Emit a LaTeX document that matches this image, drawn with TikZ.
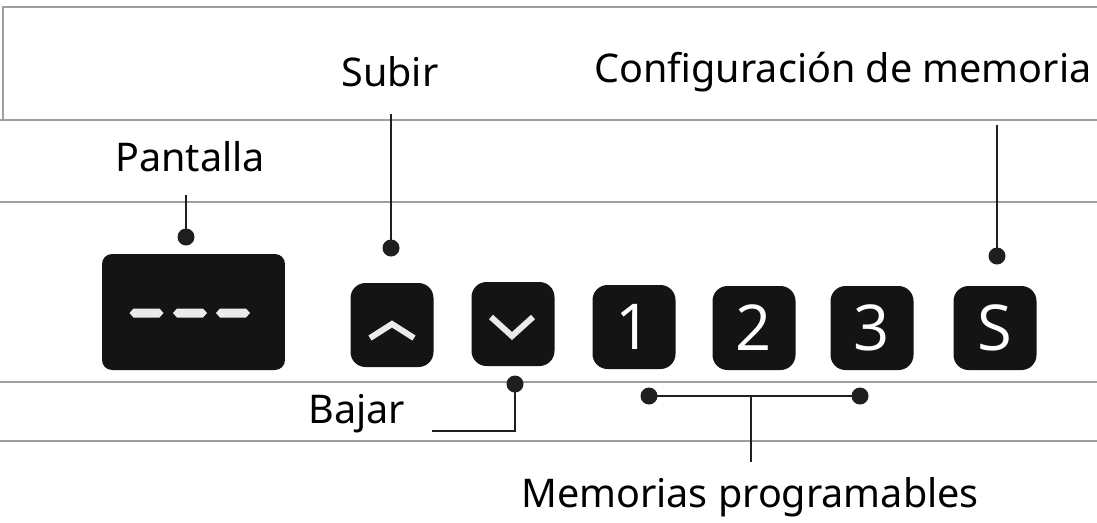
\documentclass[tikz,border=0pt]{standalone}
\usepackage{fontspec}
\setmainfont{Noto Sans}
\newfontfamily\keyfont{Open Sans}
\begin{document}
\begin{tikzpicture}[x=0.02cm, y=-0.02cm,
    rail/.style={draw=black!38, line width=0.8pt},
    lead/.style={draw=black!88, line width=1.6pt},
    dot/.style={circle, fill=black!88, inner sep=0pt, minimum size=0.34cm},
    key/.style={rounded corners=0.3cm, fill=black!92, minimum width=1.66cm,
        minimum height=1.68cm, text=white, inner sep=0pt,
        font=\keyfont\fontsize{36}{36}\selectfont},
    tag/.style={font=\fontsize{22.5}{26}\selectfont, inner sep=0pt}]
    \useasboundingbox (0,0) rectangle (1097,522);
    % panel rails
    \draw[rail] (3,120) -- (3,7) -- (1097,7);
    \foreach \y in {120,202,382,441}
        \draw[rail] (0,\y) -- (1097,\y);
    % display and keys
    \node[key, minimum width=3.66cm, minimum height=2.32cm, rounded corners=0.2cm] (screen) at (193.5,312) {};
    \foreach \x in {146.5,190,233}
        \fill[black!8] (\x-17,313) -- (\x-13,308.5) -- (\x+13,308.5) -- (\x+17,313)
            -- (\x+13,317.5) -- (\x-13,317.5) -- cycle;
    \node[key] (up) at (392,325) {};
    \node[key] (down) at (513,324) {};
    \node[key] (one) at (634,327) {1};
    \node[key] (two) at (754,328) {2};
    \node[key] (three) at (872,328) {3};
    \node[key] (set) at (995,328) {S};
    \draw[black!8, line width=3.4pt, miter limit=4] (370,338) -- (392,324) -- (414,338);
    \draw[black!8, line width=3.4pt, miter limit=4] (491,317) -- (512,336) -- (533,317);
    % labels
    \node[tag] (l-screen) at (190,157) {Pantalla};
    \node[tag] (l-up) at (390,72) {Subir};
    \node[tag] (l-set) at (843,72) {Configuración de memoria};
    \node[tag] (l-down) at (357,414) {Bajar};
    \node[tag] (l-mem) at (750,497) {Memorias programables};
    % leads
    \node[dot] (d-screen) at (186,237) {};
    \node[dot] (d-up) at (391,248) {};
    \node[dot] (d-set) at (997,256) {};
    \node[dot] (d-down) at (515,384) {};
    \node[dot] (d-one) at (649,396) {};
    \node[dot] (d-three) at (860,396) {};
    \coordinate (t-screen) at (186,195);
    \coordinate (t-up) at (391,114);
    \coordinate (t-set) at (997,125);
    \coordinate (t-down) at (432,431);
    \coordinate (b-mem) at (751,396);
    \coordinate (t-mem) at (751,462);
    \draw[lead] (d-screen.center) -- (t-screen);
    \draw[lead] (d-up.center) -- (t-up);
    \draw[lead] (d-set.center) -- (t-set);
    \draw[lead] (d-down.center) -- (d-down.center |- t-down) -- (t-down);
    \draw[lead] (d-one.center) -- (d-three.center);
    \draw[lead] (b-mem) -- (t-mem);
\end{tikzpicture}
\end{document}
